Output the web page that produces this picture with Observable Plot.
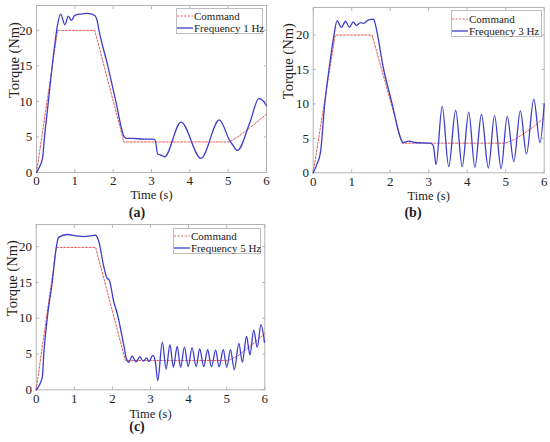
<!DOCTYPE html>
<html><head><meta charset="utf-8">
<script src="https://cdn.jsdelivr.net/npm/d3@7"></script>
<script src="https://cdn.jsdelivr.net/npm/@observablehq/plot@0.6"></script>
<style>
body{margin:0;background:#fff;}
#root{position:relative;width:550px;height:442px;font-family:"Liberation Serif","Times New Roman",serif;color:#222;overflow:hidden;}
.panel{position:absolute;}
.panel svg text{font-family:"Liberation Serif","Times New Roman",serif;}
.legend{position:absolute;box-sizing:border-box;border:1px solid #bdbdbd;background:#fff;font-size:11px;line-height:12px;padding-top:1px;}
.legend .row{display:flex;align-items:center;white-space:nowrap;height:12px;}
.legend svg{flex:none;margin-right:1px;}
.tag{position:absolute;font-weight:bold;font-size:14px;transform:translate(-50%,-50%);white-space:nowrap;line-height:14px;}
</style></head><body><div id="root"></div>
<script>
// ---- data ----
const xTicks = [0, 1, 2, 3, 4, 5, 6];
const yTicks = [0, 5, 10, 15, 20];
const seriesNames = ["Command", "Frequency 1 Hz", "Frequency 3 Hz", "Frequency 5 Hz"];
const panelTags = ["(a)", "(b)", "(c)"];

// panel (a): command and 1 Hz response
const cmdTimeA = [0, 0.55, 1.52, 2.28, 5.03, 5.25, 5.5, 5.75, 6];
const cmdTorqueA = [0, 20, 20, 4.3, 4.3, 5.0, 6.0, 7.1, 8.2];
const respTimeA = [0, 0.08, 0.16, 0.2, 0.3, 0.4, 0.5, 0.55, 0.63, 0.74, 0.83, 0.91, 1.0, 1.15, 1.32, 1.52, 1.58, 1.63, 1.86, 2.07, 2.29, 2.34, 2.5, 2.8, 3.06, 3.1, 3.16, 3.27, 3.34, 3.77, 4.29, 4.77, 5.03, 5.13, 5.24, 5.57, 5.8, 5.91, 6.0];
const respTorqueA = [0, 0.8, 2.1, 4.5, 9.5, 14.5, 19, 20.8, 22.3, 20.8, 22, 21.4, 22.1, 22.3, 22.4, 22.1, 21.4, 20, 15, 10, 5, 4.8, 4.8, 4.7, 4.7, 4.5, 2.6, 2.4, 2.2, 7.1, 2.0, 7.4, 4.6, 3.8, 3.1, 7.1, 10.4, 10.1, 9.4];

// panel (b): command and 3 Hz response
const cmdTimeB = [0, 0.57, 1.53, 2.31, 5.0, 5.25, 5.5, 5.75, 6];
const cmdTorqueB = [0, 20, 20, 4.3, 4.3, 4.9, 5.8, 6.8, 8.0];
const respTimeB = [0, 0.1, 0.19, 0.3, 0.41, 0.54, 0.62, 0.73, 0.84, 0.94, 1.04, 1.12, 1.23, 1.31, 1.44, 1.57, 1.62, 1.83, 1.96, 2.05, 2.27, 2.34, 2.48, 2.65, 3.04, 3.12, 3.19, 3.35, 3.52, 3.70, 3.87, 4.04, 4.2, 4.37, 4.55, 4.71, 4.88, 5.04, 5.21, 5.38, 5.54, 5.73, 5.89, 6.0];
const respTorqueB = [0, 1.3, 3.0, 10, 15, 20, 22.1, 21.1, 22.0, 21.1, 21.9, 21.4, 21.8, 21.7, 22.2, 22.3, 21.4, 15, 12, 10, 5, 4.4, 4.6, 4.4, 4.3, 3.95, 1.2, 9.65, 0.9, 9.1, 0.9, 8.8, 0.8, 8.5, 0.7, 8.3, 0.6, 8.2, 1.6, 9.0, 2.75, 10.7, 4.4, 10];

// panel (c): command and 5 Hz response
const cmdTimeC = [0, 0.53, 1.56, 2.34, 5.05, 5.3, 5.55, 5.8, 6];
const cmdTorqueC = [0, 19.9, 19.9, 4.1, 4.1, 4.8, 5.8, 6.9, 7.9];
const respTimeC = [0, 0.16, 0.2, 0.29, 0.42, 0.53, 0.59, 0.81, 1.07, 1.25, 1.42, 1.56, 1.64, 1.77, 1.85, 1.92, 2.04, 2.12, 2.3, 2.37, 2.43, 2.52, 2.62, 2.72, 2.81, 2.9, 2.96, 3.06, 3.13, 3.19, 3.31, 3.41, 3.51, 3.6, 3.7, 3.79, 3.89, 3.99, 4.09, 4.2, 4.29, 4.4, 4.5, 4.6, 4.71, 4.8, 4.91, 5.0, 5.1, 5.2, 5.32, 5.41, 5.52, 5.61, 5.71, 5.8, 5.9, 5.99];
const respTorqueC = [0, 1.76, 5, 10, 15, 20, 21.3, 21.7, 21.5, 21.4, 21.5, 21.6, 20.8, 17.3, 15.7, 15.3, 12.2, 10.8, 6.2, 4.3, 3.85, 4.7, 3.9, 4.6, 4.0, 4.45, 3.95, 4.8, 3.85, 1.3, 6.65, 2.9, 6.3, 3.15, 6.05, 3.15, 5.95, 3.25, 5.85, 3.25, 5.7, 3.25, 5.6, 3.2, 5.55, 3.2, 5.6, 3.15, 5.6, 2.8, 6.5, 3.85, 7.45, 4.9, 8.35, 5.95, 9.1, 6.65];

// ---- drawing ----
const FONT = '"Liberation Serif", "Times New Roman", serif';
const BLUE = "#3d3dcc", RED = "#e35b5b", GRID = "#b4b4b4", INK = "#222";
const root = document.getElementById("root");

function zip(ts, vs) { return ts.map((t, i) => ({t, v: vs[i]})); }

function makePanel(cfg) {
  const cmd = zip(cfg.cmdT, cfg.cmdV);
  const resp = zip(cfg.respT, cfg.respV);
  const svg = Plot.plot({
    width: cfg.width, height: cfg.height,
    marginTop: cfg.mt, marginBottom: cfg.mb, marginLeft: cfg.ml, marginRight: cfg.mr,
    style: {fontFamily: FONT, fontSize: "13px", color: INK, background: "transparent", overflow: "visible"},
    x: {domain: [0, 6]},
    y: {domain: [0, cfg.yMax]},
    marks: [
      Plot.frame({stroke: GRID}),
      Plot.axisX(xTicks, {anchor: "bottom", tickSize: -3, tickPadding: cfg.xPad, stroke: GRID, fill: INK, label: null, fontSize: 13, fontFamily: FONT, fontVariant: "normal"}),
      Plot.axisX(xTicks, {anchor: "top", tickSize: -3, stroke: GRID, tickFormat: () => "", label: null}),
      Plot.axisY(yTicks, {anchor: "left", tickSize: -3, tickPadding: 7.3, stroke: GRID, fill: INK, label: null, fontSize: 13, fontFamily: FONT, fontVariant: "normal"}),
      Plot.axisY(yTicks, {anchor: "right", tickSize: -3, stroke: GRID, tickFormat: () => "", label: null}),
      Plot.line(cmd, {x: "t", y: "v", stroke: RED, strokeWidth: 1, strokeDasharray: "2,1.6"}),
      Plot.line(resp, {x: "t", y: "v", stroke: BLUE, strokeWidth: 1.3, curve: "monotone-x"}),
      Plot.text(["Time (s)"], {text: d => d, frameAnchor: "bottom", dy: cfg.xLabelDy, lineAnchor: "middle", fontSize: 12.5, fontFamily: FONT, fill: INK}),
      Plot.text(["Torque (Nm)"], {text: d => d, frameAnchor: "left", rotate: -90, dx: cfg.yLabelDx, dy: 9, lineAnchor: "middle", fontSize: 14.5, fontFamily: FONT, fill: INK})
    ]
  });
  const holder = document.createElement("div");
  holder.className = "panel";
  holder.style.left = cfg.left + "px";
  holder.style.top = cfg.top + "px";
  holder.appendChild(svg);
  root.appendChild(holder);

  // legend
  const lg = document.createElement("div");
  lg.className = "legend";
  Object.assign(lg.style, {left: cfg.legend[0] + "px", top: cfg.legend[1] + "px", width: cfg.legend[2] + "px", height: cfg.legend[3] + "px", paddingTop: cfg.legend[4] + "px"});
  const items = [[seriesNames[0], RED, "2,1.6", 1], [cfg.name, BLUE, null, 1.3]];
  for (const [label, color, dash, sw] of items) {
    const row = document.createElement("div");
    row.className = "row";
    row.innerHTML = `<svg width="16" height="6"><line x1="0" x2="16" y1="3" y2="3" stroke="${color}" stroke-width="${sw}" ${dash ? `stroke-dasharray="${dash}"` : ""}/></svg><span>${label}</span>`;
    lg.appendChild(row);
  }
  root.appendChild(lg);

  const tag = document.createElement("div");
  tag.className = "tag";
  tag.textContent = cfg.tag;
  tag.style.left = cfg.tagPos[0] + "px";
  tag.style.top = cfg.tagPos[1] + "px";
  root.appendChild(tag);
}

makePanel({cmdT: cmdTimeA, cmdV: cmdTorqueA, respT: respTimeA, respV: respTorqueA, name: seriesNames[1], tag: panelTags[0],
  left: 0, top: 0, width: 275, height: 200, mt: 5, mb: 28, ml: 36, mr: 9, yMax: 23.5, xPad: 6.5, xLabelDy: 22.5, yLabelDx: -22,
  legend: [176, 8, 87, 26, 1], tagPos: [137, 213]});
makePanel({cmdT: cmdTimeB, cmdV: cmdTorqueB, respT: respTimeB, respV: respTorqueB, name: seriesNames[2], tag: panelTags[1],
  left: 275, top: 0, width: 275, height: 200, mt: 7, mb: 27.7, ml: 37.7, mr: 6.3, yMax: 24, xPad: 6.5, xLabelDy: 23, yLabelDx: -24.4,
  legend: [451, 10, 91, 27, 1.5], tagPos: [413, 213]});
makePanel({cmdT: cmdTimeC, cmdV: cmdTorqueC, respT: respTimeC, respV: respTorqueC, name: seriesNames[3], tag: panelTags[2],
  left: 0, top: 215, width: 275, height: 200, mt: 9, mb: 25.7, ml: 35.7, mr: 10.7, yMax: 23.1, xPad: 7, xLabelDy: 23.7, yLabelDx: -23.4,
  legend: [173, 228, 88, 26, 1], tagPos: [137, 427]});
</script></body></html>
